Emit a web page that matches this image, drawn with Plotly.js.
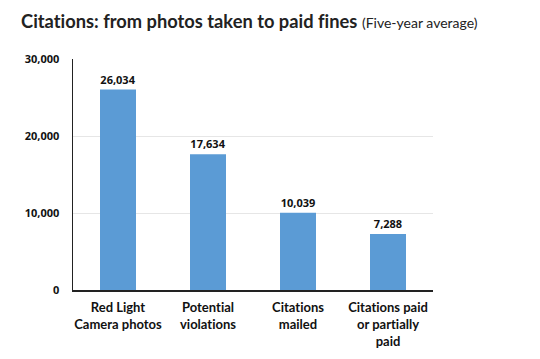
<!DOCTYPE html>
<html><head><meta charset="utf-8">
<script src="https://cdn.plot.ly/plotly-3.0.1.min.js"></script>
<style>body{margin:0;background:#fff}#c{width:540px;height:359px}
svg text{font-variant-ligatures:none;font-feature-settings:"liga" 0,"clig" 0;}</style>
</head><body><div id="c"></div>
<script>
const categories = ["Red Light<br>Camera photos", "Potential<br>violations", "Citations<br>mailed", "Citations paid<br>or partially<br>paid"];
const values = [26034, 17634, 10039, 7288];
const yTicks = [0, 10000, 20000, 30000];
const yTickText = ["0", "10,000", "20,000", "30,000"];

const fam = "Open Sans, Noto Sans, sans-serif";
const tfam = "Lato, Open Sans, sans-serif";
Plotly.newPlot('c', [{
  type: 'bar', x: categories, y: values,
  marker: {color: '#5b9bd5'},
  texttemplate: '%{y:,}', textposition: 'outside', cliponaxis: false,
  textfont: {family: fam, size: 11, color: '#111', weight: 700},
  hoverinfo: 'none'
}], {
  width: 540, height: 359,
  margin: {l: 73, r: 107, t: 59, b: 69},
  paper_bgcolor: '#fff', plot_bgcolor: '#fff',
  bargap: 0.6, showlegend: false,
  title: {text: '<b>Citations: from photos taken to paid fines</b> <span style="font-size:14px;font-weight:400">(Five-year average)</span>',
    x: 0.039, xanchor: 'left', y: 0.94, yanchor: 'middle',
    font: {family: tfam, size: 18.3, color: '#222'}},
  xaxis: {showline: true, linecolor: '#222', linewidth: 1.5, ticks: '',
    ticklabelstandoff: 5,
    tickfont: {family: tfam, size: 13, color: '#111', weight: 700}, fixedrange: true},
  yaxis: {range: [0, 30000], tickvals: yTicks, ticktext: yTickText,
    showline: true, linecolor: '#222', linewidth: 1.5, ticks: '',
    showgrid: true, gridcolor: '#e6e6e6', gridwidth: 1, zeroline: false,
    ticklabelstandoff: 10,
    tickfont: {family: fam, size: 11, color: '#111', weight: 700}, fixedrange: true}
}, {displayModeBar: false, staticPlot: true});
</script></body></html>
